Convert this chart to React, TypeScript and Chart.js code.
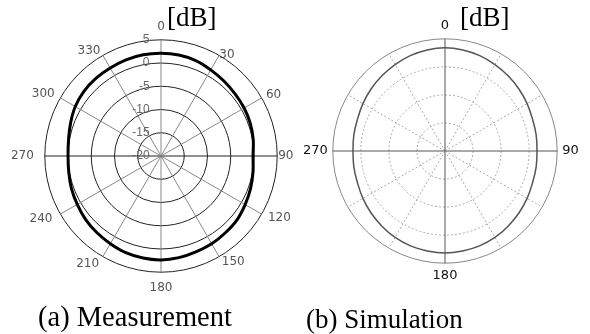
import React, { useEffect, useRef } from 'react';
import { Chart, registerables } from 'chart.js';
Chart.register(...registerables);

// Angular categories (degrees, every 10°)
const ANGLES = [0, 10, 20, 30, 40, 50, 60, 70, 80, 90, 100, 110, 120, 130, 140, 150, 160, 170,
  180, 190, 200, 210, 220, 230, 240, 250, 260, 270, 280, 290, 300, 310, 320, 330, 340, 350];
const ANGLE_LABELS = ANGLES.map((a) => String(a));

// (a) Measurement [dB]
const MEAS_DB = [2.1, 2.05, 1.85, 1.4, 1.05, 0.8, 0.65, 0.45, 0.15, -0.2, 0.1, 0.5, 0.9, 1.35, 1.55,
  1.8, 1.95, 2.2, 2.35, 2.3, 2.15, 1.8, 1.5, 1.2, 0.8, 0.5, 0.15, 0.0, 0.2, 0.7, 1.3, 1.65, 1.8,
  1.85, 2.0, 2.1];

// (b) Simulation [dB]
const SIM_DB = [-1.6, -1.7, -1.9, -2.2, -2.5, -2.8, -3.1, -3.4, -3.5, -3.6, -3.5, -3.4, -3.1, -2.8,
  -2.5, -2.2, -2.0, -1.9, -1.8, -1.9, -2.0, -2.2, -2.5, -2.8, -3.1, -3.4, -3.5, -3.6, -3.5, -3.4,
  -3.1, -2.8, -2.5, -2.2, -1.9, -1.7];

const MEAS_MIN = -20;
const MEAS_MAX = 5;
const SIM_MIN = -20;
const SIM_MAX = 0;
const TICK_STEP = 5;

const LEFT_PAD: Record<string, number> = {
  '0': 4.1, '30': -7.6, '60': -3.1, '90': -7, '120': -0.7, '150': -2.5, '180': 6.6,
  '210': -0.4, '240': 1.15, '270': 3, '300': -1.5, '330': -3.1,
};

function PolarChart({ config, style, w, h }: any) {
  const ref = useRef<HTMLCanvasElement | null>(null);
  useEffect(() => {
    if (!ref.current) return;
    const chart = new Chart(ref.current, config);
    return () => chart.destroy();
  }, []);
  return <canvas ref={ref} width={w} height={h} style={{ position: 'absolute', display: 'block', width: w, height: h, ...style }} />;
}

export default function App() {
  useEffect(() => {
    document.body.style.margin = '0';
    document.body.style.background = '#fff';
  }, []);

  const leftConfig: any = {
    type: 'radar',
    data: {
      labels: ANGLE_LABELS,
      datasets: [{
        data: MEAS_DB,
        borderColor: '#000',
        borderWidth: 3,
        pointRadius: 0,
        fill: false,
        tension: 0.4,
      }],
    },
    options: {
      animation: false,
      responsive: false,
      maintainAspectRatio: false,
      layout: { padding: { left: 3, right: 3, top: 26, bottom: 10 } },
      plugins: { legend: { display: false }, tooltip: { enabled: false } },
      scales: {
        r: {
          min: MEAS_MIN,
          max: MEAS_MAX,
          ticks: {
            stepSize: TICK_STEP,
            showLabelBackdrop: false,
            color: '#666',
            font: { family: 'Liberation Sans', size: 12 },
            callback: (v: number) => {
              const wl = 6.7 * String(Math.abs(v)).length + (v < 0 ? 4 : 0);
              const n = Math.round((12 + wl / 2) / 1.67);
              return String(v) + ' '.repeat(n);
            },
          },
          grid: { circular: true, color: '#222', lineWidth: 1 },
          angleLines: {
            color: (c: any) => (c.index % 9 === 0 && c.index % 18 !== 0 ? '#222' : c.index % 3 === 0 ? '#888' : 'rgba(0,0,0,0)'),
            lineWidth: 1,
          },
          pointLabels: {
            callback: (l: string, i: number) => (i % 3 === 0 ? l : ''),
            color: '#555',
            font: { family: 'DejaVu Sans', size: 12, lineHeight: 0.1 },
            padding: (c: any) => LEFT_PAD[ANGLE_LABELS[c.index]] ?? 0,
          },
        },
      },
    },
  };

  const rightConfig: any = {
    type: 'radar',
    data: {
      labels: ANGLE_LABELS,
      datasets: [{
        data: SIM_DB,
        borderColor: '#555',
        borderWidth: 1.5,
        pointRadius: 0,
        fill: false,
        tension: 0.4,
      }],
    },
    options: {
      animation: false,
      responsive: false,
      maintainAspectRatio: false,
      layout: { padding: { left: 0, right: 0, top: 9, bottom: 9 } },
      plugins: { legend: { display: false }, tooltip: { enabled: false } },
      scales: {
        r: {
          min: SIM_MIN,
          max: SIM_MAX,
          ticks: { stepSize: TICK_STEP, display: false },
          grid: { circular: true, color: (c: any) => (c.index === 4 ? '#888' : '#aaa'), lineWidth: 1 },
          border: { dash: (c: any) => (c.index === 4 ? [] : [2, 2]) },
          angleLines: {
            color: (c: any) => (c.index % 9 === 0 ? '#555' : c.index % 3 === 0 ? '#aaa' : 'rgba(0,0,0,0)'),
            borderDash: (c: any) => (c.index % 9 === 0 ? [] : [2, 2]),
            lineWidth: 1,
          },
          pointLabels: {
            callback: (l: string, i: number) => (i % 9 === 0 ? l : ''),
            color: '#111',
            font: { family: 'DejaVu Sans', size: 13 },
            padding: 5,
          },
        },
      },
    },
  };

  const serif = "'Liberation Serif', 'Times New Roman', serif";
  return (
    <div style={{ position: 'relative', width: 590, height: 334, overflow: 'hidden', background: '#fff' }}>
      <PolarChart config={leftConfig} w={322} h={300} style={{ left: 0, top: 0 }} />
      <PolarChart config={rightConfig} w={284} h={304} style={{ left: 299, top: 0 }} />
      <div style={{ position: 'absolute', left: 167, top: 0, fontFamily: serif, fontSize: 27, lineHeight: '34px', whiteSpace: 'pre' }}>[dB]</div>
      <div style={{ position: 'absolute', left: 460, top: 0, fontFamily: serif, fontSize: 27, lineHeight: '34px', whiteSpace: 'pre' }}>[dB]</div>
      <div style={{ position: 'absolute', left: 38, top: 299, fontFamily: serif, fontSize: 28.5, lineHeight: '36px', whiteSpace: 'pre' }}>(a) Measurement</div>
      <div style={{ position: 'absolute', left: 306, top: 301, fontFamily: serif, fontSize: 27, lineHeight: '36px', whiteSpace: 'pre' }}>(b) Simulation</div>
    </div>
  );
}
